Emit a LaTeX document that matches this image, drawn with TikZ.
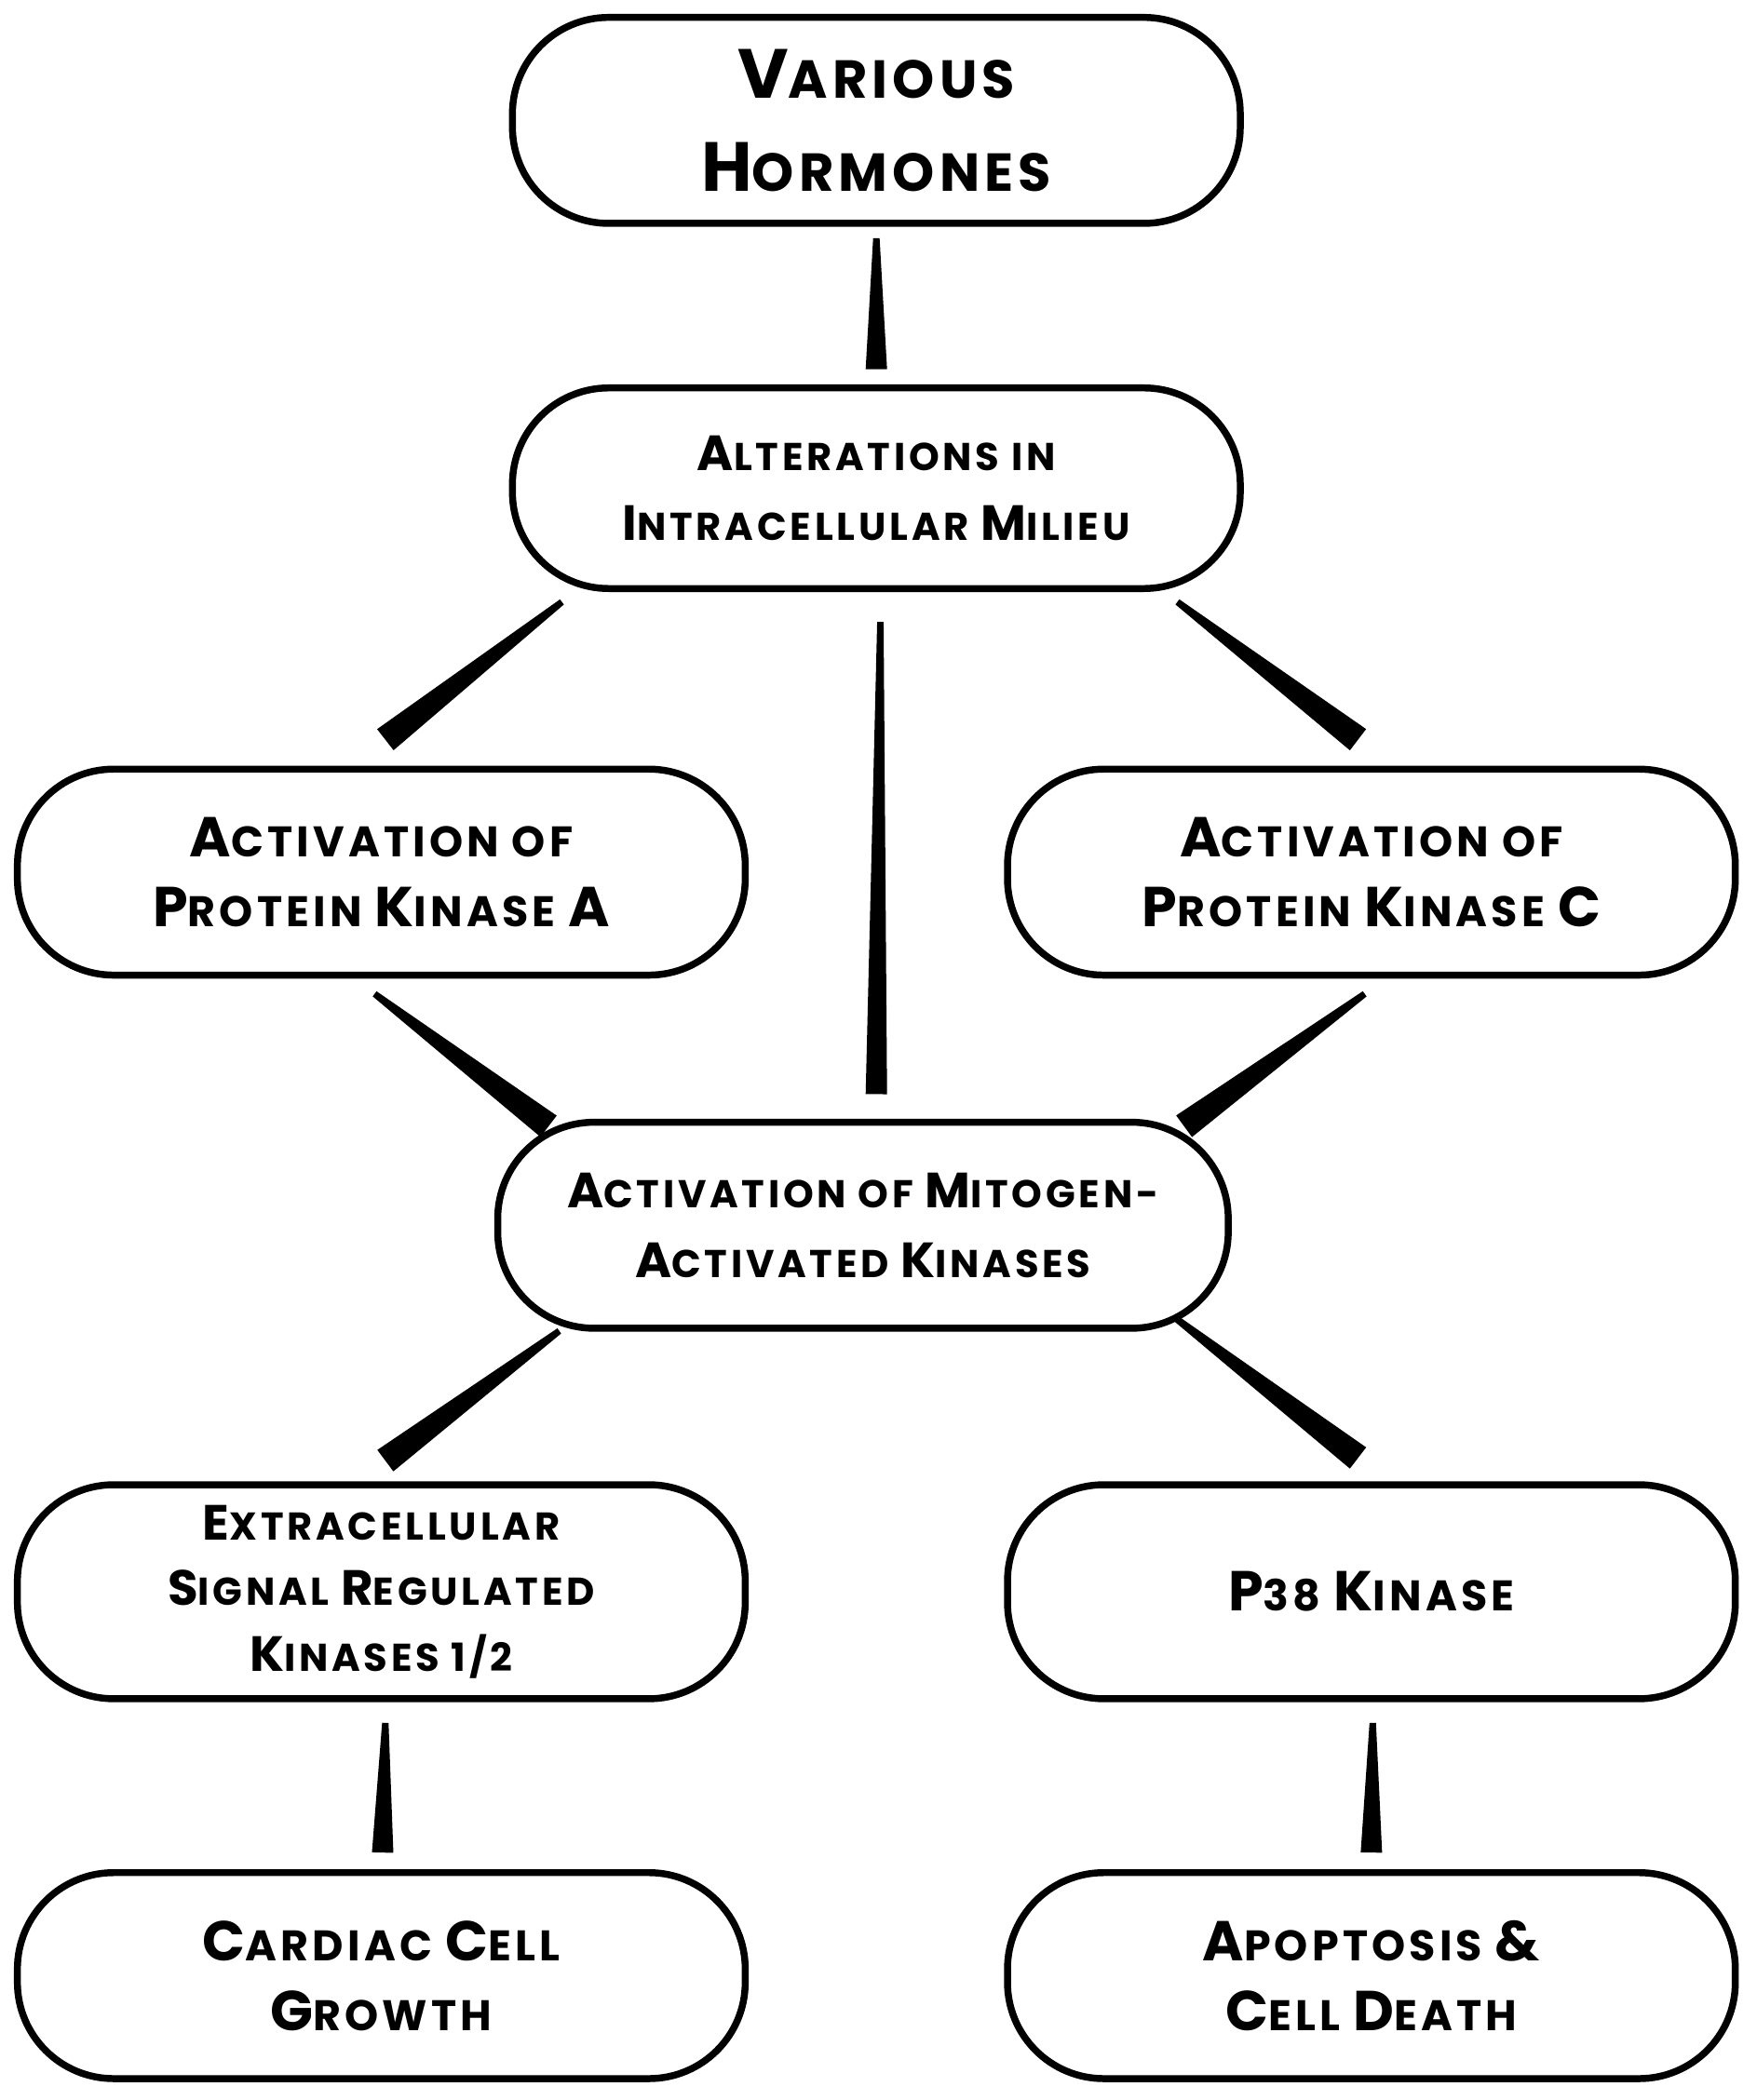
\documentclass[tikz,border=0pt]{standalone}
\usepackage{fontspec}
\setmainfont{Poppins}[LetterSpace=9]
\usetikzlibrary{calc}
\newcommand{\Sm}[1]{{\fontsize{16}{26}\selectfont #1}}
\newcommand{\Bg}[1]{{\fontsize{21}{26}\selectfont #1}}
\newcommand{\wedgeconn}[3]{\fill ($(#1)!1.2pt!90:(#2)$) -- ($(#2)!#3!-90:(#1)$) -- ($(#2)!#3!90:(#1)$) -- ($(#1)!1.2pt!-90:(#2)$) -- cycle;}
\begin{document}
\begin{tikzpicture}[x=0.5pt,y=-0.5pt,
  box/.style={draw,line width=2.6pt,rounded corners=36pt,minimum width=272pt,minimum height=77pt,align=center,font=\bfseries\fontsize{16}{26}\selectfont,inner sep=0pt}]
\useasboundingbox (0,0) rectangle (1313,1570);
\node[box,font=\bfseries\fontsize{26}{35}\selectfont] (h) at (655,90) {V{\fontsize{20}{35}\selectfont ARIOUS}\\H{\fontsize{20}{35}\selectfont ORMONES}};
\node[box,minimum height=75pt,font=\bfseries\fontsize{14.5}{26}\selectfont] (alt) at (655,365) {{\fontsize{18.5}{26}\selectfont A}LTERATIONS IN\\{\fontsize{18.5}{26}\selectfont I}NTRACELLULAR {\fontsize{18.5}{26}\selectfont M}ILIEU};
\node[box] (pka) at (285,652) {\Bg{A}\Sm{CTIVATION OF}\\\Bg{P}\Sm{ROTEIN} \Bg{K}\Sm{INASE} \Bg{A}};
\node[box] (pkc) at (1025,652) {\Bg{A}\Sm{CTIVATION OF}\\\Bg{P}\Sm{ROTEIN} \Bg{K}\Sm{INASE} \Bg{C}};
\node[box,minimum width=273pt,font=\bfseries\fontsize{14.5}{26}\selectfont] (mapk) at (645,916) {{\fontsize{18.5}{26}\selectfont A}CTIVATION OF {\fontsize{18.5}{26}\selectfont M}ITOGEN-\\{\fontsize{18.5}{26}\selectfont A}CTIVATED {\fontsize{18.5}{26}\selectfont K}INASES};
\node[box,minimum height=80pt,font=\bfseries\fontsize{14.5}{24.5}\selectfont] (erk) at (285,1190) {{\fontsize{18.5}{24.5}\selectfont E}XTRACELLULAR\\{\fontsize{18.5}{24.5}\selectfont S}IGNAL {\fontsize{18.5}{24.5}\selectfont R}EGULATED\\{\fontsize{18.5}{24.5}\selectfont K}INASES 1/2};
\node[box,minimum height=80pt] (p38) at (1025,1190) {\Bg{P}\Sm{38} \Bg{K}\Sm{INASE}};
\node[box] (card) at (285,1477) {\Bg{C}\Sm{ARDIAC} \Bg{C}\Sm{ELL}\\\Bg{G}\Sm{ROWTH}};
\node[box] (apo) at (1025,1477) {\Bg{A}\Sm{POPTOSIS} \Bg{\&}\\\Bg{C}\Sm{ELL} \Bg{D}\Sm{EATH}};
\coordinate (a1) at (655,178); \coordinate (b1) at (655,276);
\coordinate (a2) at (420,450); \coordinate (b2) at (288,553);
\coordinate (a3) at (658,465); \coordinate (b3) at (655,818);
\coordinate (a4) at (880,450); \coordinate (b4) at (1015,553);
\coordinate (a5) at (280,743); \coordinate (b5) at (410,842);
\coordinate (a6) at (1020,743); \coordinate (b6) at (885,842);
\coordinate (a7) at (418,995); \coordinate (b7) at (288,1092);
\coordinate (a8) at (878,985); \coordinate (b8) at (1015,1090);
\coordinate (a9) at (288,1288); \coordinate (b9) at (286,1385);
\coordinate (a10) at (1026,1288); \coordinate (b10) at (1025,1385);
\wedgeconn{a1}{b1}{4pt}
\wedgeconn{a2}{b2}{5pt}
\wedgeconn{a3}{b3}{4pt}
\wedgeconn{a4}{b4}{5pt}
\wedgeconn{a5}{b5}{5pt}
\wedgeconn{a6}{b6}{5pt}
\wedgeconn{a7}{b7}{5pt}
\wedgeconn{a8}{b8}{5pt}
\wedgeconn{a9}{b9}{4pt}
\wedgeconn{a10}{b10}{4pt}
\end{tikzpicture}
\end{document}
